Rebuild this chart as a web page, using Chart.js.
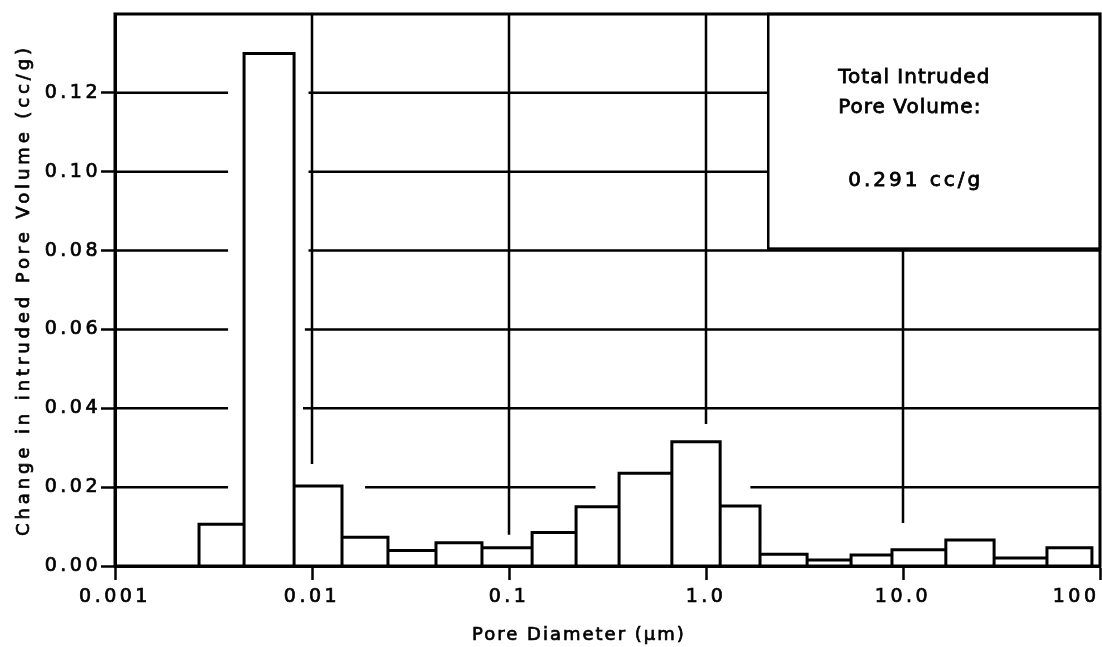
<!DOCTYPE html>
<html>
<head>
<meta charset="utf-8">
<script src="https://cdn.jsdelivr.net/npm/chart.js@4.4.1/dist/chart.umd.min.js"></script>
<style>
  html, body { margin: 0; padding: 0; background: #fff; }
</style>
</head>
<body>
<canvas id="poreChart" width="1102" height="647"></canvas>
<script>
// histogram bin edges, pore diameter in um (log spaced)
var binEdges = [0.00267, 0.00452, 0.00811, 0.0142, 0.0243, 0.0426, 0.0729, 0.131, 0.219, 0.362,
                0.671, 1.18, 1.88, 3.26, 5.45, 8.79, 16.5, 29.0, 53.8, 91.0];
// change in intruded pore volume for each bin, cc/g
var poreVolume = [0.0106, 0.130, 0.0203, 0.0073, 0.0039, 0.0059, 0.0046, 0.0085, 0.0150, 0.0235,
                  0.0315, 0.0152, 0.0030, 0.0015, 0.0028, 0.0041, 0.0066, 0.0020, 0.0046];
var decadeTicks = [0.001, 0.01, 0.1, 1, 10, 100];
var decadeLabels = ['0.001', '0.01', '0.1', '1.0', '10.0', '100     '];
var volumeTicks = [0, 0.02, 0.04, 0.06, 0.08, 0.10, 0.12];
var noteLines = ['Total Intruded', 'Pore Volume:', '0.291 cc/g'];

var FONT = '"DejaVu Sans", sans-serif';

// bar outlines: each bin is traced up, across and back down
var outline = [];
for (var i = 0; i < poreVolume.length; i++) {
  outline.push({x: binEdges[i], y: 0});
  outline.push({x: binEdges[i], y: poreVolume[i]});
  outline.push({x: binEdges[i + 1], y: poreVolume[i]});
  outline.push({x: binEdges[i + 1], y: 0});
}

// the old plot has broken grid lines, drawn here in data units
var gridRows = [
  {y: 0.12, spans: [[0.001, 0.00375], [0.0096, 2.07]]},
  {y: 0.10, spans: [[0.001, 0.00375], [0.0096, 2.07]]},
  {y: 0.08, spans: [[0.001, 0.00375], [0.0096, 100]]},
  {y: 0.06, spans: [[0.001, 0.00375], [0.0092, 100]]},
  {y: 0.04, spans: [[0.001, 0.00375], [0.0090, 100]]},
  {y: 0.02, spans: [[0.001, 0.00375], [0.0186, 0.275], [1.68, 100]]}
];
var gridCols = [
  {x: 0.01, from: 0.0259, to: 0.14},
  {x: 0.1, from: 0.0079, to: 0.14},
  {x: 1, from: 0.036, to: 0.14},
  {x: 10, from: 0.0109, to: 0.0805}
];
var noteBox = {x0: 2.07, x1: 100, y0: 0.0805, y1: 0.14};

function penText(ctx, text, x, y) {
  ctx.fillText(text, x, y);
  ctx.strokeText(text, x, y);
}

var plotDecor = {
  id: 'plotDecor',
  beforeDraw: function(chart) {
    var ctx = chart.ctx;
    ctx.save();
    ctx.fillStyle = '#fff';
    ctx.fillRect(0, 0, chart.width, chart.height);
    ctx.restore();
    ctx.letterSpacing = '3.5px';
  },
  beforeDatasetsDraw: function(chart) {
    var ctx = chart.ctx, xs = chart.scales.x, ys = chart.scales.y;
    ctx.save();
    ctx.strokeStyle = '#000';
    ctx.lineWidth = 2.5;
    ctx.beginPath();
    gridRows.forEach(function(row) {
      var py = ys.getPixelForValue(row.y);
      row.spans.forEach(function(s) {
        ctx.moveTo(xs.getPixelForValue(s[0]), py);
        ctx.lineTo(xs.getPixelForValue(s[1]), py);
      });
    });
    gridCols.forEach(function(col) {
      var px = xs.getPixelForValue(col.x);
      ctx.moveTo(px, ys.getPixelForValue(col.from));
      ctx.lineTo(px, ys.getPixelForValue(col.to));
    });
    ctx.stroke();
    ctx.restore();
  },
  afterDatasetsDraw: function(chart) {
    var ctx = chart.ctx, xs = chart.scales.x, ys = chart.scales.y, a = chart.chartArea;
    var bx = xs.getPixelForValue(noteBox.x0), by = ys.getPixelForValue(noteBox.y1);
    var bw = xs.getPixelForValue(noteBox.x1) - bx, bh = ys.getPixelForValue(noteBox.y0) - by;
    ctx.save();
    ctx.fillStyle = '#fff';
    ctx.fillRect(bx, by, bw, bh);
    ctx.strokeStyle = '#000';
    ctx.lineWidth = 2.5;
    ctx.strokeRect(bx, by, bw, bh);
    ctx.lineWidth = 3;
    ctx.strokeRect(a.left, a.top, a.right - a.left, a.bottom - a.top);

    ctx.fillStyle = '#000';
    ctx.lineWidth = 0.8;
    ctx.font = '20px ' + FONT;
    ctx.letterSpacing = '1px';
    ctx.textAlign = 'left';
    ctx.textBaseline = 'alphabetic';
    penText(ctx, noteLines[0], bx + 70, by + 69);
    penText(ctx, noteLines[1], bx + 70, by + 99);
    ctx.letterSpacing = '3px';
    penText(ctx, noteLines[2], bx + 80, by + 172);
    ctx.restore();
  },
  afterDraw: function(chart) {
    var ctx = chart.ctx, a = chart.chartArea;
    ctx.save();
    ctx.fillStyle = '#000';
    ctx.strokeStyle = '#000';
    ctx.lineWidth = 0.7;
    ctx.font = '18px ' + FONT;
    ctx.letterSpacing = '2px';
    ctx.textAlign = 'left';
    ctx.textBaseline = 'alphabetic';
    penText(ctx, 'Pore Diameter (μm)', a.left + 357, a.bottom + 74);

    ctx.translate(29, (a.top + a.bottom) / 2);
    ctx.rotate(-Math.PI / 2);
    ctx.letterSpacing = '3.9px';
    ctx.textAlign = 'center';
    penText(ctx, 'Change in intruded Pore Volume (cc/g)', 0, 0);
    ctx.restore();
    ctx.letterSpacing = '0px';
  }
};

new Chart(document.getElementById('poreChart'), {
  type: 'scatter',
  data: {
    datasets: [{
      data: outline,
      showLine: true,
      borderColor: '#000',
      borderWidth: 3,
      backgroundColor: '#fff',
      fill: 'origin',
      pointRadius: 0,
      tension: 0
    }]
  },
  options: {
    responsive: false,
    animation: false,
    layout: {padding: {top: 14, right: 2, left: 0, bottom: 0}},
    plugins: {legend: {display: false}, tooltip: {enabled: false}},
    scales: {
      x: {
        type: 'logarithmic',
        min: 0.001,
        max: 100,
        afterBuildTicks: function(scale) {
          scale.ticks = decadeTicks.map(function(v) { return {value: v}; });
        },
        afterFit: function(scale) {
          scale.height = 81;
          scale.paddingLeft = 0;
          scale.paddingRight = 0;
        },
        grid: {drawOnChartArea: false, drawTicks: true, tickLength: 14, tickColor: '#000', tickWidth: 2.5},
        border: {display: true, color: '#000', width: 3},
        ticks: {
          autoSkip: false,
          maxRotation: 0,
          padding: 6,
          color: '#000',
          textStrokeColor: '#000',
          textStrokeWidth: 0.7,
          font: {family: FONT, size: 19},
          callback: function(v) {
            var k = decadeTicks.indexOf(v);
            return k < 0 ? '' : decadeLabels[k];
          }
        }
      },
      y: {
        type: 'linear',
        min: 0,
        max: 0.14,
        afterBuildTicks: function(scale) {
          scale.ticks = volumeTicks.map(function(v) { return {value: v}; });
        },
        afterFit: function(scale) {
          scale.width = 115;
          scale.paddingTop = 0;
          scale.paddingBottom = 0;
        },
        grid: {drawOnChartArea: false, drawTicks: true, tickLength: 14, tickColor: '#000', tickWidth: 2.5},
        border: {display: true, color: '#000', width: 3},
        ticks: {
          padding: 0,
          color: '#000',
          textStrokeColor: '#000',
          textStrokeWidth: 0.7,
          font: {family: FONT, size: 19},
          callback: function(v) { return v.toFixed(2); }
        }
      }
    }
  },
  plugins: [plotDecor]
});
</script>
</body>
</html>
